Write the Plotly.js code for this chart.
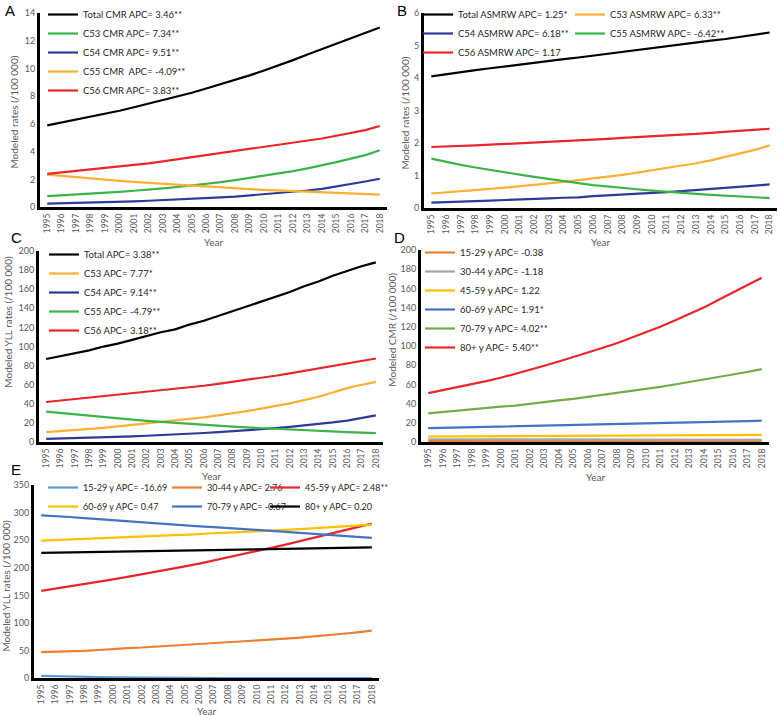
<!DOCTYPE html>
<html><head><meta charset="utf-8">
<script src="https://cdn.plot.ly/plotly-3.0.1.min.js"></script>
<style>body{margin:0;padding:0;background:#fff}#chart{width:778px;height:716px}</style>
</head><body><div id="chart"></div>
<script>
// ---------- data ----------
const years = ['1995','1996','1997','1998','1999','2000','2001','2002','2003','2004','2005','2006','2007','2008','2009','2010','2011','2012','2013','2014','2015','2016','2017','2018'];

// Panel A: CMR
const aTotal = [5.9,6.1,6.3,6.5,6.75,6.95,7.2,7.45,7.7,8.0,8.25,8.55,8.85,9.15,9.5,9.85,10.2,10.6,11.0,11.4,11.8,12.2,12.55,12.95];
const aC53 = [0.8,0.85,0.9,0.95,1.02,1.1,1.18,1.25,1.35,1.45,1.55,1.65,1.8,1.95,2.1,2.25,2.45,2.6,2.8,3.0,3.25,3.5,3.75,4.1];
const aC54 = [0.25,0.27,0.3,0.32,0.35,0.37,0.42,0.46,0.5,0.55,0.6,0.65,0.7,0.76,0.84,0.92,1.0,1.1,1.2,1.32,1.48,1.65,1.85,2.05];
const aC55 = [2.35,2.25,2.15,2.05,1.98,1.9,1.82,1.75,1.65,1.6,1.55,1.5,1.42,1.35,1.3,1.25,1.2,1.15,1.1,1.05,1.0,0.97,0.93,0.9];
const aC56 = [2.4,2.5,2.6,2.7,2.8,2.95,3.05,3.15,3.3,3.45,3.6,3.7,3.85,4.0,4.15,4.3,4.5,4.65,4.8,4.95,5.15,5.35,5.55,5.85];
const aNames = ['Total CMR APC= 3.46**','C53 CMR APC= 7.34**','C54 CMR APC= 9.51**','C55 CMR\u00a0 APC= -4.09**','C56 CMR APC= 3.83**'];

// Panel B: ASMRW
const bTotal = [4.05,4.12,4.18,4.24,4.3,4.36,4.42,4.48,4.53,4.58,4.63,4.69,4.75,4.81,4.87,4.93,4.98,5.04,5.1,5.15,5.2,5.26,5.33,5.4];
const bC53 = [0.45,0.48,0.52,0.55,0.59,0.63,0.67,0.71,0.76,0.81,0.86,0.91,0.96,1.02,1.09,1.16,1.23,1.3,1.38,1.47,1.57,1.68,1.79,1.93];
const bC54 = [0.17,0.18,0.2,0.22,0.23,0.25,0.26,0.28,0.3,0.32,0.33,0.37,0.39,0.41,0.44,0.47,0.49,0.52,0.55,0.58,0.62,0.66,0.69,0.73];
const bC55 = [1.52,1.42,1.33,1.25,1.17,1.1,1.03,0.96,0.89,0.82,0.77,0.71,0.66,0.62,0.58,0.54,0.5,0.47,0.44,0.41,0.38,0.36,0.33,0.31];
const bC56 = [1.88,1.89,1.91,1.93,1.95,1.97,1.99,2.01,2.03,2.06,2.08,2.11,2.13,2.16,2.19,2.21,2.24,2.26,2.28,2.31,2.35,2.38,2.41,2.44];
const bNames = ['Total ASMRW APC= 1.25*','C53 ASMRW APC= 6.33**','C54 ASMRW APC= 6.18**','C55 ASMRW APC= -6.42**','C56 ASMRW APC= 1.17'];

// Panel C: YLL rates
const cTotal = [87,90,93,96,100,103,107,111,115,118,123,127,132,137,142,147,152,157,163,168,174,179,184,188];
const cC53 = [10.5,11.5,13,14,15,16.5,18,19.5,21,22.5,24,26,28,30,32.5,35,37.5,40.5,44,47.5,52,56.5,60,63];
const cC54 = [3.5,3.8,4.2,4.6,5,5.5,6,6.7,7.3,8,8.8,9.6,10.5,11.4,12.4,13.4,14.6,15.9,17.3,18.9,20.6,22.6,25,28];
const cC55 = [32,30.5,29,27.5,26,24.8,23.5,22.3,21.2,20.2,19.2,18.2,17.2,16.3,15.4,14.6,13.8,13,12.3,11.6,11,10.5,10,9.5];
const cC56 = [42,43.5,45,46.5,48,49.5,51,52.5,54,55.5,57.5,59,61,63,65,67,69.5,72,74.5,77,79.5,82,84.5,87.5];
const cNames = ['Total APC= 3.38**','C53 APC= 7.77*','C54 APC= 9.14**','C55 APC= -4.79**','C56 APC= 3.18**'];

// Panel D: CMR by age
const d1529 = [1.2,1.2,1.2,1.2,1.2,1.2,1.2,1.2,1.2,1.2,1.2,1.2,1.1,1.1,1.1,1.1,1.1,1.1,1.1,1.1,1.1,1.1,1.1,1.1];
const d3044 = [3.0,2.97,2.93,2.9,2.86,2.83,2.8,2.76,2.73,2.7,2.67,2.63,2.6,2.57,2.54,2.51,2.48,2.45,2.42,2.39,2.36,2.33,2.3,2.27];
const d4559 = [5.9,5.95,6,6.05,6.1,6.2,6.25,6.3,6.35,6.4,6.5,6.55,6.6,6.7,6.75,6.8,6.9,6.95,7.0,7.1,7.2,7.3,7.4,7.5];
const d6069 = [14.5,14.8,15.2,15.5,15.8,16.1,16.4,16.7,17,17.3,17.6,17.9,18.2,18.5,18.8,19.1,19.5,19.8,20.2,20.6,21,21.4,21.9,22.5];
const d7079 = [30,31.5,32.5,34,35.5,37,38,40,42,43.5,45,47,49,51,53.5,55.5,57.5,60,62.5,65.5,68,70.5,73,76];
const d80 = [51,54,57,60,63.5,67,71,75,79.5,84,88.5,93,98,103,108.5,114,120,126.5,133,140,148,155.5,163,171];
const dNames = ['15-29 y APC= -0.38','30-44 y APC= -1.18','45-59 y APC= 1.22','60-69 y APC= 1.91*','70-79 y APC= 4.02**','80+ y APC= 5.40**'];

// Panel E: YLL by age
const e1529 = [4,3.2,2.6,2.1,1.7,1.4,1.1,0.9,0.7,0.6,0.5,0.4,0.3,0.25,0.2,0.15,0.12,0.1,0.08,0.06,0.05,0.04,0.03,0.02];
const e3044 = [47,47.5,48,49.5,51,53,54.5,55.5,57,58.5,60,61.5,63.5,65,66.5,68.5,70,71.5,73.5,75.5,78,80.5,83,86];
const e4559 = [158,162,166,170,174.5,179,183.5,188,192.5,197.5,202.5,207.5,213,218.5,224,230,236,242,248.5,255,261.5,267.5,273.5,280];
const e6069 = [249,250,251.5,252.5,253.5,254.5,255.5,256.5,257.5,258.5,260,261,262.5,263.5,265,266,267.5,268.5,270,271.5,273,274.5,276,278];
const e7079 = [295,294,292,290,288,286,284,282.5,280.5,278.5,276.5,275,273.5,271.5,270,268.5,267,265,263,261.5,259.5,257.5,255.5,254];
const e80 = [227,227.5,228,228.5,229,229,229.5,230,230.5,231,231,231.5,232,232.5,233,233.5,234,234.5,235,235,235.5,236,236.5,237];
const eNames = ['15-29 y APC= -16.69','30-44 y APC= 2.76','45-59 y APC= 2.48**','60-69 y APC= 0.47','70-79 y APC= -0.67','80+ y APC= 0.20'];

// axis titles
const xTitle = 'Year';
const yTitles = ['Modeled rates (/100 000)', 'Modeled rates (/100 000)', 'Modeled YLL rates (/100 000)', 'Modeled CMR (/100 000)', 'Modeled YLL rates (/100 000)'];
const panelLetters = ['A', 'B', 'C', 'D', 'E'];

// ---------- styling ----------
const W = 778, H = 716;
const px = v => v / W;
const py = v => 1 - v / H;
const FONT = 'Lato, "Open Sans", "Liberation Sans", sans-serif';
const GREY = '#595959';
const K = '#000000', GRN = '#3BB44A', NAVY = '#2E3A97', GOLD = '#FBB034', RED = '#E8262B';
const DOR = '#ED7D31', DGR = '#A5A5A5', DYE = '#FFC000', DBL = '#4472C4', DGN = '#70AD47', LBL = '#5B9BD5';

const traces = [];
function add(ax, y, name, color, legend) {
  traces.push({
    x: years, y: y, name: name, type: 'scatter', mode: 'lines',
    xaxis: 'x' + (ax === 1 ? '' : ax), yaxis: 'y' + (ax === 1 ? '' : ax),
    line: {color: color, width: 2.2}, legend: legend, hoverinfo: 'skip'
  });
}
// A
add(1, aTotal, aNames[0], K, 'legend9');
add(1, aC53, aNames[1], GRN, 'legend9');
add(1, aC54, aNames[2], NAVY, 'legend9');
add(1, aC55, aNames[3], GOLD, 'legend9');
add(1, aC56, aNames[4], RED, 'legend9');
// B
add(2, bTotal, bNames[0], K, 'legend2');
add(2, bC53, bNames[1], GOLD, 'legend3');
add(2, bC54, bNames[2], NAVY, 'legend2');
add(2, bC55, bNames[3], GRN, 'legend3');
add(2, bC56, bNames[4], RED, 'legend2');
// C
add(3, cTotal, cNames[0], K, 'legend4');
add(3, cC53, cNames[1], GOLD, 'legend4');
add(3, cC54, cNames[2], NAVY, 'legend4');
add(3, cC55, cNames[3], GRN, 'legend4');
add(3, cC56, cNames[4], RED, 'legend4');
// D
add(4, d1529, dNames[0], DOR, 'legend5');
add(4, d3044, dNames[1], DGR, 'legend5');
add(4, d4559, dNames[2], DYE, 'legend5');
add(4, d6069, dNames[3], DBL, 'legend5');
add(4, d7079, dNames[4], DGN, 'legend5');
add(4, d80, dNames[5], RED, 'legend5');
// E
add(5, e1529, eNames[0], LBL, 'legend6');
add(5, e3044, eNames[1], DOR, 'legend7');
add(5, e4559, eNames[2], RED, 'legend8');
add(5, e6069, eNames[3], DYE, 'legend6');
add(5, e7079, eNames[4], DBL, 'legend7');
add(5, e80, eNames[5], K, 'legend8');

const layout = {
  width: W, height: H, margin: {l: 0, r: 0, t: 0, b: 0},
  paper_bgcolor: '#fff', plot_bgcolor: 'rgba(0,0,0,0)',
  font: {family: FONT, color: GREY, size: 9},
  showlegend: true, annotations: []
};

function note(text, xPx, yPx, opts) {
  layout.annotations.push(Object.assign({
    text: text, xref: 'paper', yref: 'paper', x: px(xPx), y: py(yPx),
    xanchor: 'center', yanchor: 'middle', showarrow: false,
    font: {size: 10, color: GREY, family: FONT}
  }, opts || {}));
}

// n, plot box (px), y range, dtick, x-title y, y-title x, y-title centre y
function axes(n, x0, x1, y0, y1, yr, dt, xTitleY, yTitleX, yTitleY) {
  const s = n === 1 ? '' : String(n);
  layout['xaxis' + s] = {
    domain: [px(x0), px(x1)], anchor: 'y' + s, type: 'category',
    range: [-0.5, 23.5], showline: true, linewidth: 3, linecolor: '#000',
    showgrid: false, zeroline: false, ticks: '', tickangle: -90,
    tickfont: {size: 8.5, color: GREY, family: FONT}
  };
  layout['yaxis' + s] = {
    domain: [py(y1), py(y0)], anchor: 'x' + s, range: yr, dtick: dt, tick0: 0,
    showline: true, linewidth: 3, linecolor: '#000',
    showgrid: false, zeroline: false, ticks: '',
    tickfont: {size: 9, color: GREY, family: FONT}
  };
  note(xTitle, (x0 + x1) / 2, xTitleY);
  note(yTitles[n - 1], yTitleX, yTitleY, {textangle: -90});
}
axes(1, 40, 387, 10, 205, [0, 14], 2, 240, 14, 110);
axes(2, 424, 777, 10, 206, [0, 6], 1, 240, 405, 111);
axes(3, 39, 383, 249, 441, [0, 200], 20, 475, 8, 320);
axes(4, 421, 769, 248, 441, [0, 200], 20, 476, 392, 328);
axes(5, 34, 379, 484, 678, [0, 350], 50, 711, 6, 585);

// legend placed so its first entry is centred at rowY; xText is where its text should start
function leg(key, xText, rowY, size) {
  layout[key] = {
    x: px(xText - 41), y: py(rowY - 14), xanchor: 'left', yanchor: 'top',
    bgcolor: 'rgba(0,0,0,0)', borderwidth: 0, orientation: 'v',
    font: {size: size || 9.5, color: '#262626', family: FONT}, tracegroupgap: 0
  };
}
leg('legend9', 84, 11);
leg('legend2', 459, 11);
leg('legend3', 611, 11);
leg('legend4', 85, 252);
leg('legend5', 461, 250);
leg('legend6', 84, 486, 9);
leg('legend7', 208, 486, 9);
leg('legend8', 306, 486, 9);

const letterPos = [[3, 8], [395, 8], [9, 235], [392, 235], [9, 468]];
panelLetters.forEach((t, i) => note(t, letterPos[i][0], letterPos[i][1], {
  xanchor: 'left', font: {size: 15, color: '#000', family: 'Liberation Sans, Arial, sans-serif'}
}));

Plotly.newPlot('chart', traces, layout, {displayModeBar: false, staticPlot: true});
</script>
</body></html>
